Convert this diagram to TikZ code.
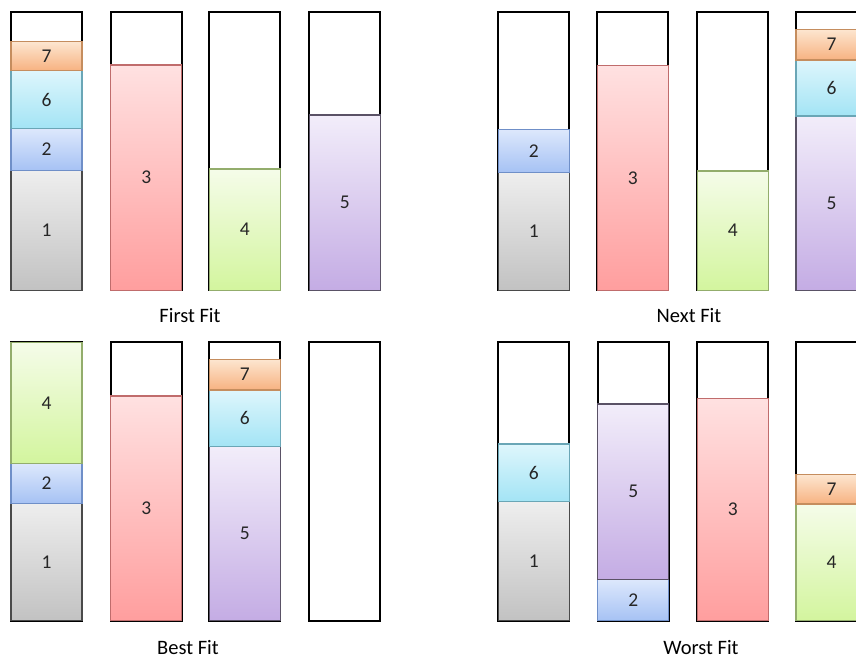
\documentclass[tikz,border=0pt]{standalone}
\usepackage{fontspec}
\setmainfont{Carlito}
\definecolor{gtop}{HTML}{EEEEEE}\definecolor{gbot}{HTML}{C2C2C2}\definecolor{gbrd}{HTML}{4A4A4A}
\definecolor{btop}{HTML}{DDE8FC}\definecolor{bbot}{HTML}{A6C2F4}\definecolor{bbrd}{HTML}{6F8FC8}
\definecolor{ptop}{HTML}{FFE1E1}\definecolor{pbot}{HTML}{FF9E9E}\definecolor{pbrd}{HTML}{C06C6C}
\definecolor{ltop}{HTML}{F5FCE9}\definecolor{lbot}{HTML}{D3F59E}\definecolor{lbrd}{HTML}{93AD6C}
\definecolor{vtop}{HTML}{F2EDFA}\definecolor{vbot}{HTML}{C4ACE4}\definecolor{vbrd}{HTML}{5A5266}
\definecolor{ctop}{HTML}{DEF6FC}\definecolor{cbot}{HTML}{A3E4F5}\definecolor{cbrd}{HTML}{6AA6B6}
\definecolor{otop}{HTML}{FDE6D0}\definecolor{obot}{HTML}{F7B281}\definecolor{obrd}{HTML}{C58D5E}
\tikzset{
  binframe/.style={draw=black, line width=2pt, fill=white},
  itm/.style={line width=1.2pt},
  i1/.style={itm, draw=gbrd, top color=gtop, bottom color=gbot},
  i2/.style={itm, draw=bbrd, top color=btop, bottom color=bbot},
  i3/.style={itm, draw=pbrd, top color=ptop, bottom color=pbot},
  i4/.style={itm, draw=lbrd, top color=ltop, bottom color=lbot},
  i5/.style={itm, draw=vbrd, top color=vtop, bottom color=vbot},
  i6/.style={itm, draw=cbrd, top color=ctop, bottom color=cbot},
  i7/.style={itm, draw=obrd, top color=otop, bottom color=obot},
  num/.style={font=\fontsize{19.5}{22}\selectfont, text=black!85},
  caption/.style={font=\fontsize{20.5}{24}\selectfont, text=black}
}
% \binbox{name}{xleft}{ytop}
\newcommand{\binbox}[3]{\draw[binframe] (#2,#3) rectangle ++(71,278.5) coordinate (#1);}
% \binitem{name}{style}{xleft}{ytop}{ybot}{label}
\newcommand{\binitem}[6]{%
  \draw[#2] (#3,#4) rectangle (#3+71,#5);
  \node[num] (#1) at (#3+35.5,{(#4+#5)/2}) {#6};}
\begin{document}
\begin{tikzpicture}[x=1pt,y=-1pt]
\useasboundingbox (0,0) rectangle (856,660);
\clip (0,0) rectangle (856,660);
% ---------- First Fit ----------
\binbox{ffA}{11}{11.7}\binbox{ffB}{110.7}{11.7}\binbox{ffC}{209.3}{11.7}\binbox{ffD}{309.3}{11.7}
\binitem{ff1}{i1}{11}{170.7}{290.2}{1}
\binitem{ff2}{i2}{11}{128.3}{170.7}{2}
\binitem{ff6}{i6}{11}{70.7}{128.3}{6}
\binitem{ff7}{i7}{11}{41.7}{70.7}{7}
\binitem{ff3}{i3}{110.7}{65}{290.2}{3}
\binitem{ff4}{i4}{209.3}{169}{290.2}{4}
\binitem{ff5}{i5}{309.3}{115}{290.2}{5}
\node[caption] (capFF) at (190,316) {First Fit};
% ---------- Next Fit ----------
\binbox{nfA}{498.3}{11.7}\binbox{nfB}{597.3}{11.7}\binbox{nfC}{697.3}{11.7}\binbox{nfD}{796}{11.7}
\binitem{nf1}{i1}{498.3}{172.3}{290.2}{1}
\binitem{nf2}{i2}{498.3}{129.3}{172.3}{2}
\binitem{nf3}{i3}{597.3}{65.7}{290.2}{3}
\binitem{nf4}{i4}{697.3}{171}{290.2}{4}
\binitem{nf5}{i5}{796}{116}{290.2}{5}
\binitem{nf6}{i6}{796}{60}{116}{6}
\binitem{nf7}{i7}{796}{29.3}{60}{7}
\node[caption] (capNF) at (689,316) {Next Fit};
% ---------- Best Fit ----------
\binbox{bfA}{11}{342.3}\binbox{bfB}{110.7}{342.3}\binbox{bfC}{209.3}{342.3}\binbox{bfD}{309.3}{342.3}
\binitem{bf1}{i1}{11}{503.3}{620.8}{1}
\binitem{bf2}{i2}{11}{463.3}{503.3}{2}
\binitem{bf4}{i4}{11}{342.3}{463.3}{4}
\binitem{bf3}{i3}{110.7}{396}{620.8}{3}
\binitem{bf5}{i5}{209.3}{446.7}{620.8}{5}
\binitem{bf6}{i6}{209.3}{390}{446.7}{6}
\binitem{bf7}{i7}{209.3}{359.3}{390}{7}
\node[caption] (capBF) at (188,648) {Best Fit};
% ---------- Worst Fit ----------
\binbox{wfA}{498.3}{342.3}\binbox{wfB}{597.8}{342.3}\binbox{wfC}{697.3}{342.3}\binbox{wfD}{796}{342.3}
\binitem{wf1}{i1}{498.3}{501.7}{620.8}{1}
\binitem{wf6}{i6}{498.3}{444}{501.7}{6}
\binitem{wf2}{i2}{597.8}{579.3}{620.8}{2}
\binitem{wf5}{i5}{597.8}{404}{579.3}{5}
\binitem{wf3}{i3}{697.3}{398.3}{620.8}{3}
\binitem{wf4}{i4}{796}{504}{620.8}{4}
\binitem{wf7}{i7}{796}{474.3}{504}{7}
\node[caption] (capWF) at (701,648) {Worst Fit};
\end{tikzpicture}
\end{document}
